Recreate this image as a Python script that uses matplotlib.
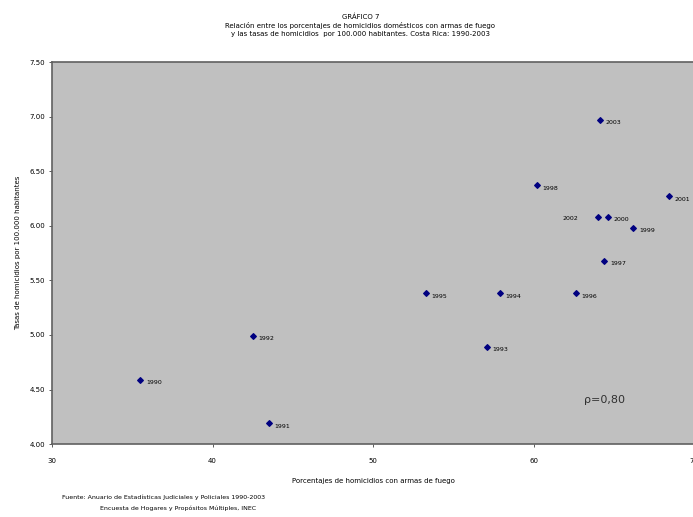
import matplotlib.pyplot as plt

# Data
years = ["1990", "1991", "1992", "1993", "1994", "1995", "1996",
         "1997", "1998", "1999", "2000", "2001", "2002", "2003"]
pct_firearms = [35.5, 43.5, 42.5, 57.1, 57.9, 53.3, 62.6,
                64.4, 60.2, 66.2, 64.6, 68.4, 64.0, 64.1]
homicide_rate = [4.59, 4.19, 4.99, 4.89, 5.38, 5.38, 5.38,
                 5.68, 6.37, 5.98, 6.08, 6.27, 6.08, 6.97]

x_ticks = [30, 40, 50, 60, 70]
y_ticks = [4.0, 4.5, 5.0, 5.5, 6.0, 6.5, 7.0, 7.5]

fig = plt.figure(figsize=(6.93, 5.17), dpi=100)
ax = fig.add_axes([0.075, 0.141, 0.927, 0.739])
ax.set_facecolor("#c0c0c0")

ax.scatter(pct_firearms, homicide_rate, marker="D", s=8, color="#000080", zorder=3)

# Year labels next to each point
for yr, xv, yv in zip(years, pct_firearms, homicide_rate):
    if yr == "2002":
        ax.annotate(yr, (xv, yv), xytext=(-14, -1), textcoords="offset points",
                    fontsize=4.5, ha="right", va="center")
    else:
        ax.annotate(yr, (xv, yv), xytext=(4, -2), textcoords="offset points",
                    fontsize=4.5, ha="left", va="center")

ax.set_xlim(30, 70)
ax.set_ylim(4.0, 7.5)
ax.set_xticks(x_ticks)
ax.set_xticklabels([str(t) for t in x_ticks], fontsize=5)
ax.set_yticks(y_ticks)
ax.set_yticklabels([f"{t:.2f}" for t in y_ticks], fontsize=5)
ax.tick_params(length=2, width=0.6, color="#404040", pad=3)
ax.tick_params(axis="x", pad=8)
for s in ax.spines.values():
    s.set_color("#606060")
    s.set_linewidth(1.2)

ax.set_xlabel("Porcentajes de homicidios con armas de fuego", fontsize=5, labelpad=10)
ax.set_ylabel("Tasas de homicidios por 100.000 habitantes", fontsize=5, labelpad=6)

ax.text(0.86, 0.115, "ρ=0,80", transform=ax.transAxes, fontsize=8,
        ha="center", va="center", color="#303030")

fig.text(0.52, 0.967, "GRÁFICO 7", fontsize=5, ha="center", va="center")
fig.text(0.52, 0.950, "Relación entre los porcentajes de homicidios domésticos con armas de fuego",
         fontsize=5, ha="center", va="center")
fig.text(0.52, 0.934, "y las tasas de homicidios  por 100.000 habitantes. Costa Rica: 1990-2003",
         fontsize=5, ha="center", va="center")

fig.text(0.089, 0.039, "Fuente: Anuario de Estadísticas Judiciales y Policiales 1990-2003",
         fontsize=4.5, ha="left", va="center")
fig.text(0.144, 0.016, "Encuesta de Hogares y Propósitos Múltiples, INEC",
         fontsize=4.5, ha="left", va="center")

fig.savefig("out.png", dpi=100)
